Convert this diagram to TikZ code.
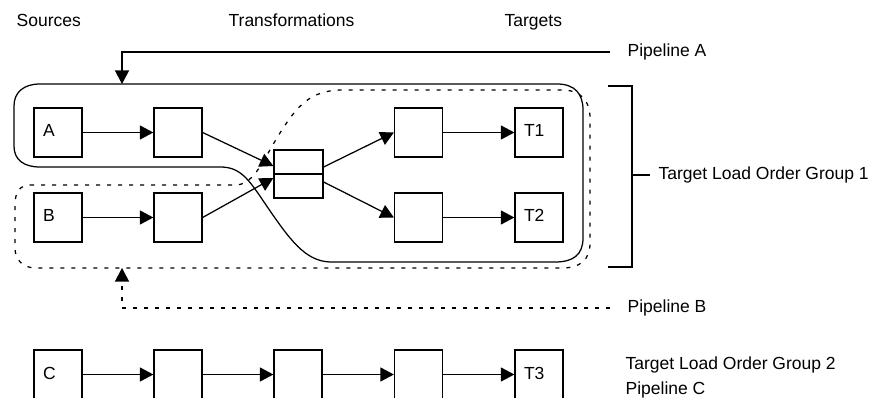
\documentclass[tikz,border=0pt]{standalone}
\usepackage{fontspec}
\setmainfont{Liberation Sans}
\usetikzlibrary{arrows.meta,calc}
\begin{document}
\begin{tikzpicture}[x=1pt,y=-1pt,line width=1.25pt,
  txt/.style={font=\fontsize{17.5}{20}\selectfont},
  box/.style={draw,txt,minimum width=48pt,minimum height=49pt,inner xsep=9pt,inner ysep=0pt,
    text width=30pt,align=left,text height=12.5pt,text depth=3.5pt},
  half/.style={draw,minimum width=49pt,minimum height=24pt,inner sep=0pt},
  arr/.style={-{Triangle[length=13.5pt,width=14pt]}},
  lbl/.style={txt,inner sep=0pt},
  dots/.style={dash pattern=on 4pt off 7pt}]
\useasboundingbox (0,0) rectangle (875,398);
\clip (0,0) rectangle (875,398);
% headers
\node[lbl,anchor=base west] (hs) at (16,26.5) {Sources};
\node[lbl,anchor=base west] (ht) at (228,26.5) {Transformations};
\node[lbl,anchor=base west] (hg) at (504,26.5) {Targets};
% pipeline A / B boxes
\node[box] (A) at (58,132.5) {A};
\node[box] (a2) at (178,132.5) {};
\node[box] (B) at (58,217.5) {B};
\node[box] (b2) at (178,217.5) {};
\node[half] (m1) at (298.5,162) {};
\node[half] (m2) at (298.5,186) {};
\node[box] (u) at (418.5,132.5) {};
\node[box] (l) at (418.5,217.5) {};
\node[box] (T1) at (539,132.5) {T1};
\node[box] (T2) at (539,217.5) {T2};
\draw[arr] (A) -- (a2);
\draw[arr] (B) -- (b2);
\draw[arr] (a2.east) -- ($(m1.west)+(0,4)$);
\draw[arr] (b2.east) -- ($(m2.west)+(0,-8)$);
\draw[arr] ($(m1.east)+(0,5)$) -- (u.west);
\draw[arr] ($(m2.east)+(0,-4)$) -- (l.west);
\draw[arr] (u) -- (T1);
\draw[arr] (l) -- (T2);
% pipeline C
\node[box] (C) at (58,374.5) {C};
\node[box] (c2) at (178,374.5) {};
\node[box] (c3) at (298,374.5) {};
\node[box] (c4) at (418.5,374.5) {};
\node[box] (T3) at (539,374.5) {T3};
\draw[arr] (C) -- (c2);
\draw[arr] (c2) -- (c3);
\draw[arr] (c3) -- (c4);
\draw[arr] (c4) -- (T3);
% pipeline A outline (solid)
\draw (40,84) -- (557,84) .. controls (575,84) and (583,94) .. (583,110)
  -- (583,238) .. controls (583,255) and (573,262) .. (555,262)
  -- (330,262) .. controls (305,261) and (290,240) .. (266,205)
  .. controls (248,178) and (240,167) .. (220,167)
  -- (40,167) .. controls (24,167) and (14,160) .. (14,146)
  -- (14,106) .. controls (14,92) and (24,84) .. (40,84) -- cycle;
% pipeline B outline (dotted)
\draw[dots] (30,185) -- (237,185) .. controls (255,183) and (263,160) .. (280,133)
  .. controls (297,106) and (310,91) .. (340,90)
  -- (562,90) .. controls (580,90) and (590,100) .. (590,118)
  -- (590,243) .. controls (590,260) and (580,268) .. (562,268)
  -- (36,268) .. controls (23,268) and (15,260) .. (15,248)
  -- (15,205) .. controls (15,192) and (20,185) .. (30,185) -- cycle;
% pipeline labels
\coordinate (aIn) at (122,84);
\coordinate (bIn) at (122,268);
\node[lbl,anchor=west,inner xsep=17pt] (pA) at (610,52) {Pipeline A};
\node[lbl,anchor=west,inner xsep=17pt] (pB) at (610,308) {Pipeline B};
\draw[arr] (pA.west) -| (aIn);
\draw[arr,dots] (pB.west) -| (bIn);
% bracket
\coordinate (brT) at (608,86);
\coordinate (brB) at (608,267);
\coordinate (brM) at (632,175);
\draw (brT) -| (brM) |- (brB);
\node[lbl,anchor=west,inner xsep=8pt] (g1) at (650,175) {Target Load Order Group 1};
\draw (brM) -- (g1.west);
\node[lbl,anchor=base west] (g2) at (625,369) {Target Load Order Group 2};
\node[lbl,anchor=base west] (pC) at (625,394) {Pipeline C};
\end{tikzpicture}
\end{document}
